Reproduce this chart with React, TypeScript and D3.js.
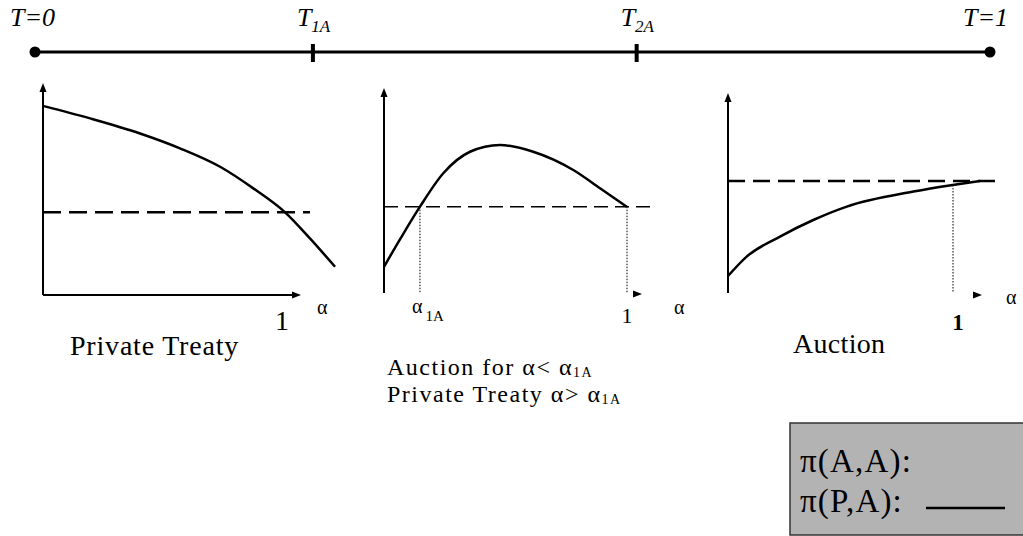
import React from "react";
import * as d3 from "d3";

// ---- Data ----
const timelineMarks = [
  { key: "T1A", t: 0.291 },
  { key: "T2A", t: 0.63 },
];

// Panel 1: Private Treaty (alpha, value)
const p1Curve: [number, number][] = [
  [0, 0.892], [0.197, 0.833], [0.406, 0.762], [0.573, 0.692], [0.741, 0.605],
  [0.88, 0.503], [1.013, 0.39], [1.117, 0.267], [1.222, 0.133],
];
const p1Dashed = 0.39;
const p1DashEnd = 1.117;

// Panel 2: Auction for alpha < alpha1A
const p2Curve: [number, number][] = [
  [0, 0.128], [0.07, 0.27], [0.148, 0.421], [0.244, 0.584], [0.354, 0.689],
  [0.477, 0.722], [0.614, 0.689], [0.779, 0.6], [0.889, 0.511], [0.999, 0.421],
];
const p2Dashed = 0.421;
const p2DashEnd = 1.115;
const alpha1A = 0.148;

// Panel 3: Auction
const p3Curve: [number, number][] = [
  [0, 0.085], [0.083, 0.182], [0.231, 0.282], [0.379, 0.365], [0.528, 0.432],
  [0.824, 0.507], [0.999, 0.54], [1.12, 0.56],
];
const p3Dashed = 0.56;
const p3DashEnd = 1.187;

const W = 1023;
const H = 536;

function Arrow({ x, y, dir }: { x: number; y: number; dir: "up" | "right" }) {
  const d =
    dir === "up"
      ? `M${x},${y} L${x - 3.5},${y + 9} L${x + 3.5},${y + 9} Z`
      : `M${x},${y} L${x - 9},${y - 3.5} L${x - 9},${y + 3.5} Z`;
  return <path d={d} fill="#000" />;
}

export default function App() {
  const serif = "'Liberation Serif', 'Times New Roman', Times, serif";
  const tScale = d3.scaleLinear().domain([0, 1]).range([35, 990]);

  // Panel scales
  const x1 = d3.scaleLinear().domain([0, 1]).range([43, 282]);
  const y1 = d3.scaleLinear().domain([0, 1]).range([295, 83]);
  const x2 = d3.scaleLinear().domain([0, 1]).range([384, 627]);
  const y2 = d3.scaleLinear().domain([0, 1]).range([293, 88]);
  const x3 = d3.scaleLinear().domain([0, 1]).range([728, 953]);
  const y3 = d3.scaleLinear().domain([0, 1]).range([293, 93]);

  const mk = (xs: any, ys: any) =>
    d3
      .line<[number, number]>()
      .x((d) => xs(d[0]))
      .y((d) => ys(d[1]))
      .curve(d3.curveMonotoneX);

  return (
    <svg
      width={W}
      height={H}
      style={{ position: "absolute", left: 0, top: 0, background: "#fff", fontFamily: serif }}
    >
      {/* Timeline */}
      <line x1={tScale(0)} x2={tScale(1)} y1={52} y2={52} stroke="#000" strokeWidth={3} />
      <circle cx={tScale(0)} cy={52} r={5.5} fill="#000" />
      <circle cx={tScale(1)} cy={52} r={5.5} fill="#000" />
      {timelineMarks.map((m) => (
        <rect key={m.key} x={tScale(m.t) - 2} y={44} width={4} height={18} fill="#000" />
      ))}
      <text x={10} y={26} fontSize={26} fontStyle="italic">T=0</text>
      <text x={tScale(timelineMarks[0].t) - 16} y={26} fontSize={26} fontStyle="italic">
        T<tspan fontSize={17} dy={6}>1A</tspan>
      </text>
      <text x={tScale(timelineMarks[1].t) - 16} y={26} fontSize={26} fontStyle="italic">
        T<tspan fontSize={17} dy={6}>2A</tspan>
      </text>
      <text x={963} y={26} fontSize={26} fontStyle="italic">T=1</text>

      {/* Panel 1 */}
      <line x1={x1(0)} x2={x1(0)} y1={y1(0)} y2={88} stroke="#000" strokeWidth={2} />
      <Arrow x={x1(0)} y={83} dir="up" />
      <line x1={x1(0)} x2={295} y1={y1(0)} y2={y1(0)} stroke="#000" strokeWidth={2} />
      <Arrow x={301} y={y1(0)} dir="right" />
      <line
        x1={x1(0)} x2={x1(p1DashEnd)} y1={y1(p1Dashed)} y2={y1(p1Dashed)}
        stroke="#000" strokeWidth={2.5} strokeDasharray="18 8"
      />
      <path d={mk(x1, y1)(p1Curve) || ""} fill="none" stroke="#000" strokeWidth={2.5} />
      <text x={x1(1)} y={330} fontSize={28} textAnchor="middle">1</text>
      <text x={317} y={314} fontSize={20}>α</text>
      <text x={70} y={355} fontSize={28} letterSpacing={0.8}>Private Treaty</text>

      {/* Panel 2 */}
      <line x1={x2(0)} x2={x2(0)} y1={y2(0)} y2={93} stroke="#000" strokeWidth={2} />
      <Arrow x={x2(0)} y={88} dir="up" />
      <Arrow x={642} y={294} dir="right" />
      <line
        x1={x2(0)} x2={x2(p2DashEnd)} y1={y2(p2Dashed)} y2={y2(p2Dashed)}
        stroke="#000" strokeWidth={1.4} strokeDasharray="14 7"
      />
      <line
        x1={x2(alpha1A)} x2={x2(alpha1A)} y1={y2(p2Dashed)} y2={y2(0)}
        stroke="#000" strokeWidth={1} strokeDasharray="1.5 1.5"
      />
      <line
        x1={x2(1)} x2={x2(1)} y1={y2(p2Dashed)} y2={y2(0)}
        stroke="#000" strokeWidth={1} strokeDasharray="1.5 1.5"
      />
      <path d={mk(x2, y2)(p2Curve) || ""} fill="none" stroke="#000" strokeWidth={2.5} />
      <text x={412} y={313} fontSize={20}>
        α<tspan fontSize={15} dx={3} dy={8}>1A</tspan>
      </text>
      <text x={x2(1)} y={323} fontSize={22} textAnchor="middle">1</text>
      <text x={674} y={314} fontSize={20}>α</text>
      <text x={387} y={375} fontSize={24} letterSpacing={1.5}>
        Auction for α&lt; α<tspan fontSize={14} dy={2}>1A</tspan>
      </text>
      <text x={387} y={402} fontSize={24} letterSpacing={1.5}>
        Private Treaty α&gt; α<tspan fontSize={14} dy={2}>1A</tspan>
      </text>

      {/* Panel 3 */}
      <line x1={x3(0)} x2={x3(0)} y1={y3(0)} y2={98} stroke="#000" strokeWidth={2} />
      <Arrow x={x3(0)} y={93} dir="up" />
      <Arrow x={982} y={295} dir="right" />
      <line
        x1={x3(0)} x2={x3(p3DashEnd)} y1={y3(p3Dashed)} y2={y3(p3Dashed)}
        stroke="#000" strokeWidth={2.5} strokeDasharray="17 8"
      />
      <line
        x1={x3(1)} x2={x3(1)} y1={y3(p3Curve[6][1])} y2={y3(0)}
        stroke="#000" strokeWidth={1} strokeDasharray="1.5 1.5"
      />
      <path d={mk(x3, y3)(p3Curve) || ""} fill="none" stroke="#000" strokeWidth={2.5} />
      <text x={958} y={330} fontSize={23} fontWeight="bold" textAnchor="middle">1</text>
      <text x={1006} y={304} fontSize={20}>α</text>
      <text x={793} y={353} fontSize={28} letterSpacing={0.3}>Auction</text>

      {/* Legend */}
      <rect x={790} y={423} width={240} height={112} fill="#b3b3b3" stroke="#333" strokeWidth={1.5} />
      <text x={800} y={472} fontSize={33} letterSpacing={1.2}>π(A,A):</text>
      <text x={800} y={512} fontSize={33} letterSpacing={1.2}>π(P,A):</text>
      <line x1={926} x2={1005} y1={508} y2={508} stroke="#000" strokeWidth={2.5} />
    </svg>
  );
}
